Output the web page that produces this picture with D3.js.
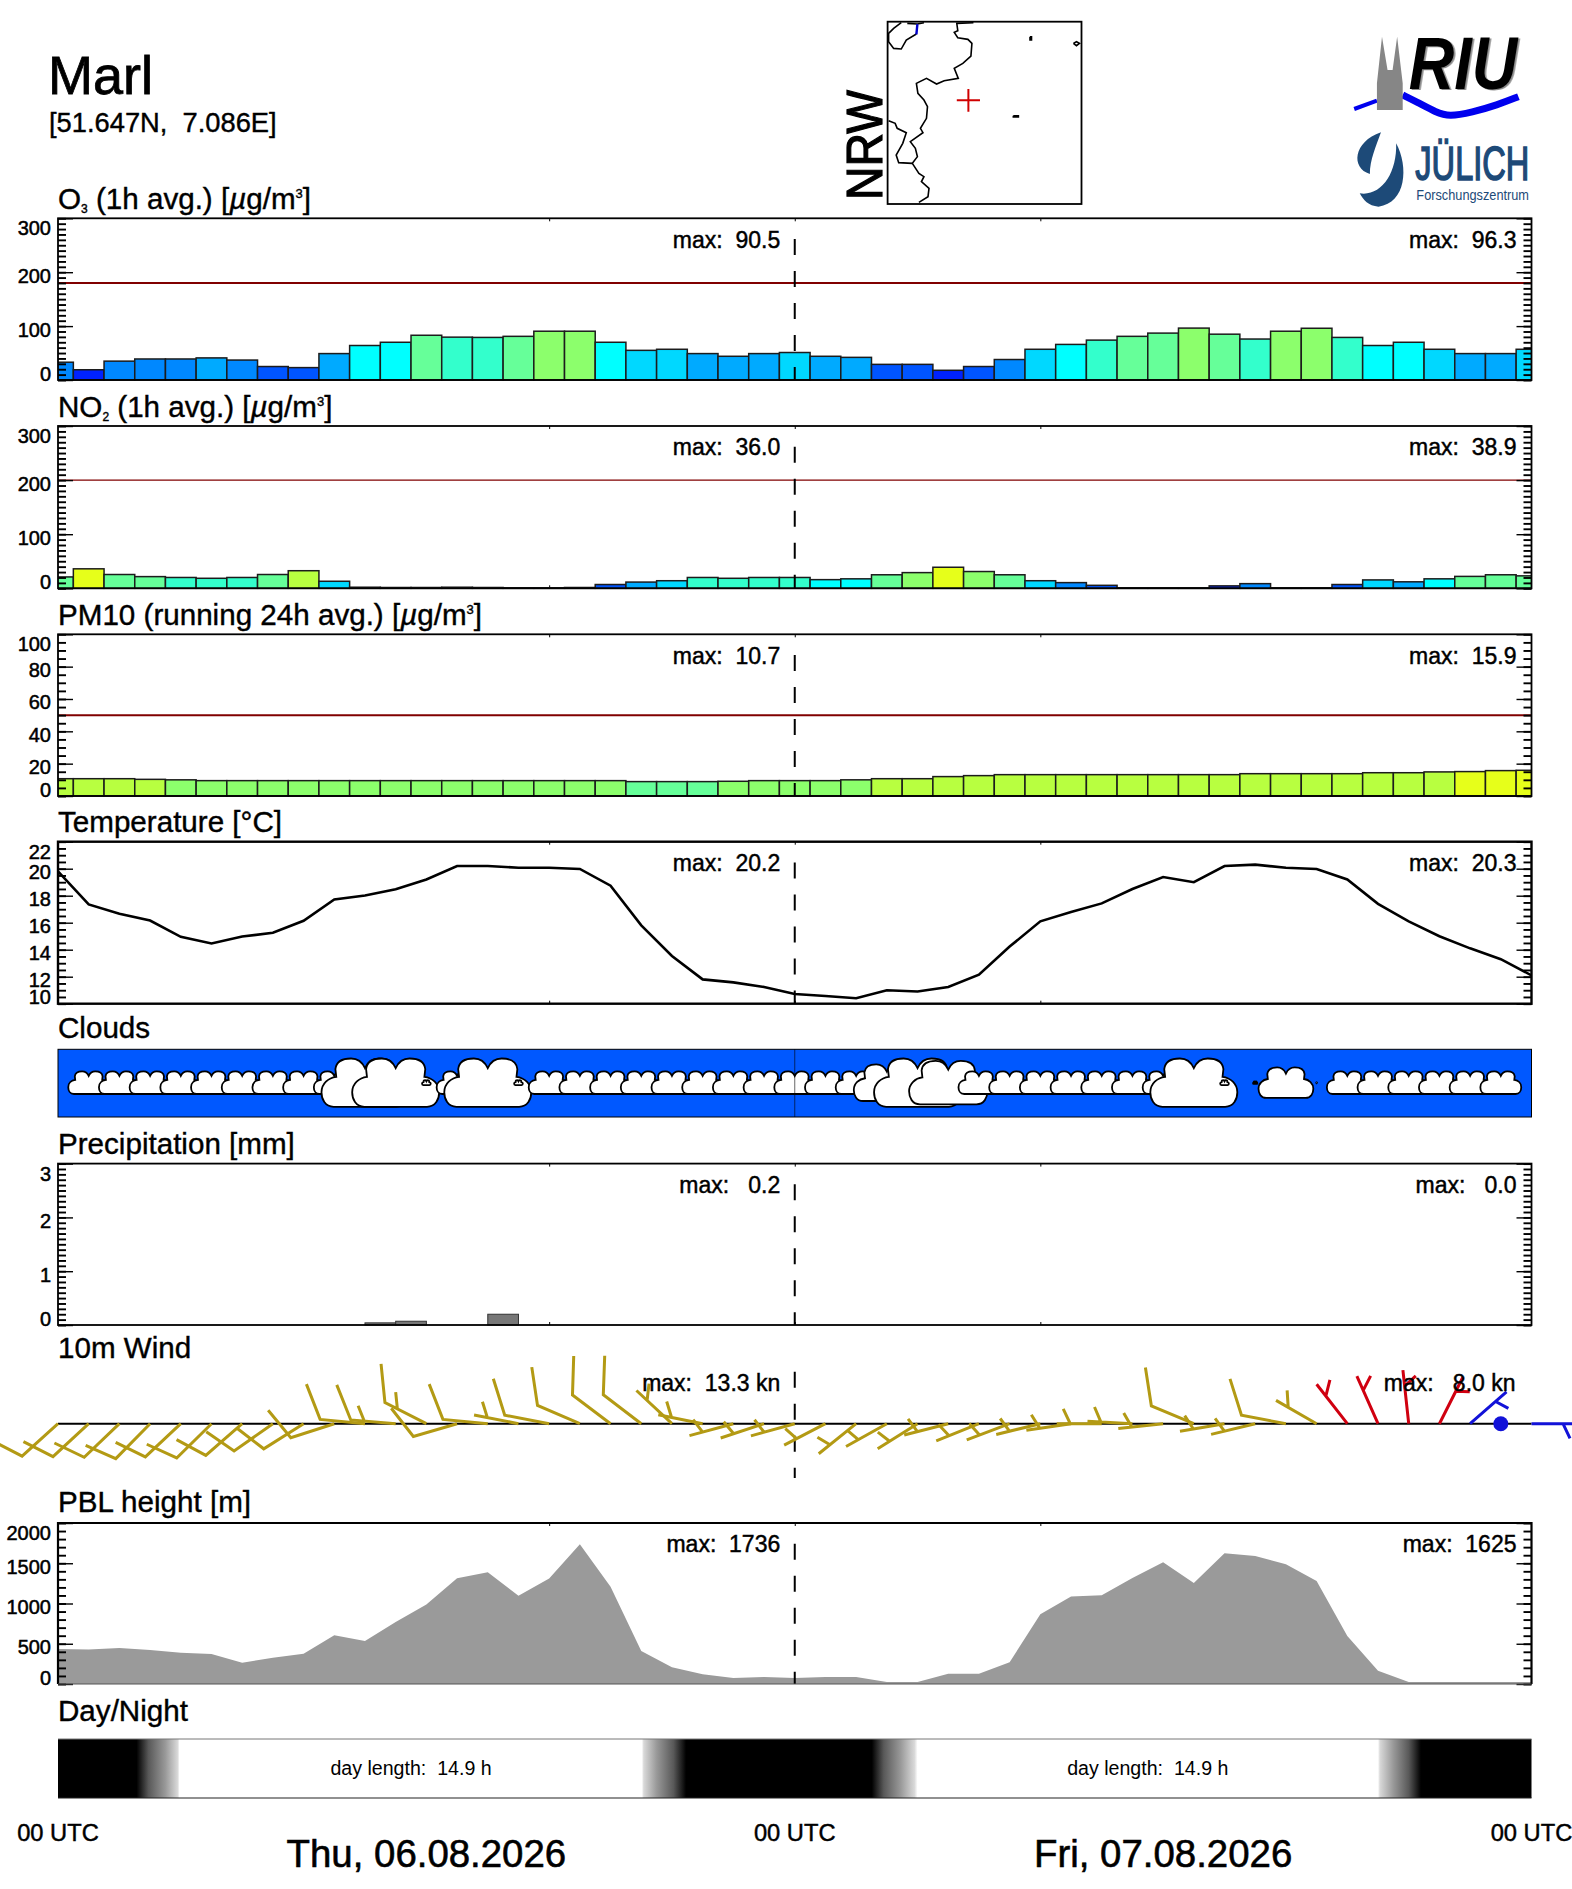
<!DOCTYPE html>
<html>
<head>
<meta charset="utf-8">
<title>Marl</title>
<script src="https://cdn.jsdelivr.net/npm/d3@7"></script>
<style>
  html, body { margin: 0; padding: 0; background: #fff; }
  svg { display: block; }
  text { font-family: "Liberation Sans", Arial, sans-serif; fill: #000; }
</style>
</head>
<body>
<div id="chart"></div>
<script>
// hourly values, 00 UTC Thu to 00 UTC Sat (49 hours)
const hours = d3.range(0, 49);

const o3 = [33, 19, 35, 39, 39, 41, 37, 25, 23, 49, 64, 70, 83, 79.5, 79, 81, 90.5, 90.5, 70, 55, 57, 49, 44, 49, 51,
            44, 42, 29, 29, 18, 25, 38, 57, 66, 74, 81, 87, 96.3, 85, 76, 90.5, 96, 79, 64, 70, 57, 49, 49, 57];
const no2 = [21, 36, 25.5, 21.6, 20, 18.5, 20, 25.5, 32.5, 13, 2, 1.5, 1.5, 2, 1.5, 1, 1, 1.5, 7, 11.5, 14, 20, 18.5, 20, 20,
             16, 17.5, 25, 29, 38.9, 31, 25, 14, 10.5, 5.5, 1, 1, 1, 4.5, 8.6, 1, 1, 7, 15.5, 12, 17.5, 22, 25, 23];
const pm10 = [10.7, 10.7, 10.7, 10.3, 10, 9.5, 9.5, 9.5, 9.5, 9.5, 9.5, 9.5, 9.5, 9.5, 9.5, 9.5, 9.5, 9.5, 9.5, 8.9, 8.9, 8.9, 9.1, 9.5, 9.5,
              9.5, 10, 10.7, 10.7, 12, 12.6, 13.2, 13.2, 13.2, 13.2, 13.2, 13.2, 13.2, 13.2, 13.8, 13.8, 13.8, 13.8, 14.4, 14.4, 14.9, 15.1, 15.7, 15.9];
const temperature = [19.8, 17.35, 16.66, 16.16, 14.95, 14.46, 14.98, 15.25, 16.14, 17.72, 18.02, 18.47, 19.2, 20.2, 20.2, 20.07, 20.07, 19.98, 18.74, 15.8, 13.54, 11.8, 11.58, 11.24, 10.72,
                     10.57, 10.4, 11.0, 10.9, 11.24, 12.15, 14.23, 16.1, 16.8, 17.43, 18.5, 19.38, 19.0, 20.2, 20.3, 20.07, 19.98, 19.2, 17.4, 16.1, 15.0, 14.1, 13.3, 12.1];
const pblHeight = [434, 430, 446, 422, 389, 372, 264, 326, 376, 607, 533, 769, 988, 1314, 1388, 1095, 1310, 1736, 1207, 409, 207, 120, 74, 87, 74,
                   87, 87, 25, 25, 128, 128, 269, 868, 1087, 1103, 1318, 1512, 1256, 1625, 1591, 1488, 1281, 595, 165, 25, 25, 25, 25, 25];
// precipitation falls in the hour that starts at precipHours
const precipHours = [10, 11, 14];
const precip = [0.04, 0.07, 0.2];
// cloud amount in percent, 0 = no symbol
const cloudAmount = [0, 47, 47, 47, 47, 47, 47, 47, 47, 47, 100, 100, 10, 47, 100, 10, 47, 47, 47, 47, 47, 47, 47, 47, 47,
                     47, 47, 76, 100, 90, 47, 47, 47, 47, 47, 47, 47, 100, 10, 5, 63, 1, 47, 47, 47, 47, 47, 47, 0];
// wind: direction it blows from in degrees, speed in knots, null = calm
const windDir = [233, 232.5, 231.5, 229.7, 232, 230.6, 234, 239.6, 242.3, 254.9, 274.6, 274, 293, 256.3, 274.6, 279.3, 279.1, 289.7, 302.2, 302.5, 307.9, 279.5, 257.2, 254.6, 257,
                 246.6, 236.2, 245.1, 242.4, 258, 251.5, 252.5, 258.5, 263, 270, 272.5, 265, 289.3, 262, 258.6, 279, 295.6, 317, 332, 352.6, 31.2, 54, null, 90];
const windSpeed = [9, 9, 9, 9, 9, 9, 9, 9, 9, 10, 11, 13, 13.3, 10, 10, 7, 9, 10, 11, 11, 7, 6, 6, 6, 6,
                   6, 6, 6, 6, 6, 6, 6, 7, 7, 7, 7, 7, 8.0, 7, 7, 8, 6, 5, 5, 5, 4, 4, 1, 4];

const maxLabels = {
    o3: ["90.5", "96.3"],
    no2: ["36.0", "38.9"],
    pm10: ["10.7", "15.9"],
    temperature: ["20.2", "20.3"],
    precip: [" 0.2", " 0.0"],
    wind: ["13.3 kn", " 8.0 kn"],
    pbl: ["1736", "1625"]
};

// sun: hour of the stop, brightness 0..1
const dayStops = [0, 2.56, 2.95, 3.5, 3.9, 3.96, 19.02, 19.08, 19.5, 20.05, 20.46, 26.51, 26.9, 27.45, 27.9, 28.0, 43.0, 43.06, 43.5, 44.0, 44.4, 48];
const dayLight = [0, 0, 0.35, 0.6, 0.85, 1, 1, 0.85, 0.6, 0.35, 0, 0, 0.35, 0.6, 0.85, 1, 1, 0.85, 0.6, 0.35, 0, 0];

const palette = ["#001a99", "#0022ff", "#0055ff", "#0088ff", "#00aaff", "#00d8ff", "#00ffff", "#33ffcc", "#66ff99", "#8cff6c", "#b8ff40", "#e6ff1a"];
const o3Steps = [10, 20, 30, 40, 50, 60, 72, 80, 90, 120, 150];
const no2Steps = [2.5, 5, 8, 11, 12.5, 16, 18, 21, 27, 32, 34];
const pm10Steps = [1, 2, 3, 4, 5, 6, 7, 8, 9, 10.2, 15];

// map outline, digitised in map units
const mapBorders = [
    [[383, 68], [350, 70], [352, 92], [345, 97], [352, 113], [372, 118], [380, 130], [378, 168], [362, 190], [345, 205], [353, 235], [325, 242], [310, 252], [290, 235], [270, 250], [273, 280], [285, 300], [292, 320], [290, 355], [278, 385], [283, 398], [258, 425], [268, 445], [272, 470], [262, 490], [275, 520], [285, 530], [280, 545], [295, 565], [293, 590], [275, 607]],
    [[215, 362], [228, 370], [232, 385], [250, 398], [243, 430], [230, 465], [235, 488], [262, 490]],
    [[240, 68], [225, 85], [215, 100], [215, 125], [225, 145], [240, 147], [250, 120], [270, 102]],
    [[252, 70], [272, 72], [285, 68]],
    [[495, 110], [498, 110], [498, 120], [495, 120], [495, 110]],
    [[581, 130], [587, 125], [593, 130], [587, 137], [581, 130]],
    [[462, 347], [472, 347], [472, 351], [462, 351], [462, 347]]
];
const mapLake = [[272, 72], [270, 103]];
const markerMap = [373, 301];

const width = 1572, height = 1889;
const left = 58, right = 1531.5;

const x = d3.scaleLinear().domain([0, 48]).range([left, right]);
const svg = d3.select("#chart").append("svg").attr("width", width).attr("height", height);
const defs = svg.append("defs");

defs.append("clipPath").attr("id", "plotClip").append("rect")
    .attr("x", left).attr("y", 0).attr("width", right - left).attr("height", height);

function addText(parent, px, py, size, str, anchor) {
    return parent.append("text").attr("x", px).attr("y", py)
        .attr("font-size", size).attr("text-anchor", anchor || "start")
        .style("white-space", "pre").text(str);
}

// title with sub/superscripts, parts = [[text, kind], ...]
function addTitle(baseline, parts) {
    let t = svg.append("text").attr("x", left).attr("y", baseline).attr("font-size", 29.6)
        .attr("stroke", "#000").attr("stroke-width", 0.4).style("white-space", "pre");
    parts.forEach(function (p, i) {
        let kind = p[1], prev = i > 0 ? parts[i - 1][1] : null;
        let span = t.append("tspan").text(p[0]);
        let dy = 0;
        if (prev === "sub") dy = -4;
        if (prev === "sup") dy = 11;
        if (kind === "sub") { dy += 4; span.attr("font-size", 12); }
        if (kind === "sup") { dy -= 11; span.attr("font-size", 13); }
        if (kind === "it") span.attr("font-style", "italic");
        if (dy !== 0) span.attr("dy", dy);
    });
}

function yAxes(g, y, majors, minorStep, fmtLabel) {
    let dom = y.domain();
    let minors = d3.range(dom[0], dom[1] + minorStep / 2, minorStep);

    [d3.axisLeft, d3.axisRight].forEach(function (axisFn, side) {
        let gx = side === 0 ? left : right;
        g.append("g").attr("transform", "translate(" + gx + ",0)")
            .call(axisFn(y).tickValues(minors).tickSize(-8).tickFormat(""))
            .call(s => s.select(".domain").remove())
            .selectAll("line").attr("stroke-width", 1.9);

        let majorAxis = g.append("g").attr("transform", "translate(" + gx + ",0)")
            .call(axisFn(y).tickValues(majors).tickSize(-15).tickPadding(side === 0 ? -8 : 0)
                .tickFormat(side === 0 ? fmtLabel : ""))
            .call(s => s.select(".domain").remove());
        majorAxis.selectAll("line").attr("stroke-width", 1.4);

        // labels sit under their tick, pulled inside at both ends of the panel
        majorAxis.selectAll("text")
            .attr("font-size", 20)
            .attr("font-family", '"Liberation Sans", Arial, sans-serif')
            .attr("stroke", "#000").attr("stroke-width", 0.5)
            .attr("fill", "#000")
            .attr("text-anchor", "end")
            .attr("x", -7)
            .attr("dy", d => d === dom[1] ? 16.6 : (d === dom[0] ? 0 : 10));
    });
}

function xTicks(g, top, bottom) {
    g.append("g").attr("transform", "translate(0," + top + ")")
        .call(d3.axisTop(x).tickValues([16, 24, 32]).tickSize(-3).tickFormat(""))
        .call(s => s.select(".domain").remove());
    g.append("g").attr("transform", "translate(0," + bottom + ")")
        .call(d3.axisBottom(x).tickValues([16, 24, 32]).tickSize(-3).tickFormat(""))
        .call(s => s.select(".domain").remove());
}

function midnightLine(g, top, bottom, color) {
    g.append("line").attr("x1", x(24)).attr("x2", x(24))
        .attr("y1", top + 20.7).attr("y2", bottom)
        .attr("stroke", color || "#000").attr("stroke-width", 2)
        .attr("stroke-dasharray", "16,16");
}

function maxText(g, top, labels) {
    addText(g, x(24) - 14.5, top + 29.4, 23, "max:  " + labels[0], "end").attr("stroke", "#000").attr("stroke-width", 0.45);
    addText(g, right - 15, top + 29.4, 23, "max:  " + labels[1], "end").attr("stroke", "#000").attr("stroke-width", 0.45);
}

function panelFrame(g, top, bottom, sw) {
    g.append("rect").attr("x", left).attr("y", top).attr("width", right - left).attr("height", bottom - top)
        .attr("fill", "none").attr("stroke", "#000").attr("stroke-width", sw || 1.8);
}

function barPanel(o) {
    let g = svg.append("g");
    let y = d3.scaleLinear().domain(o.domain).range([o.bottom, o.top]);
    let color = d3.scaleThreshold().domain(o.steps).range(palette);
    let bw = x(1) - x(0);

    xTicks(g, o.top, o.bottom);
    g.append("g").attr("clip-path", "url(#plotClip)").selectAll("rect")
        .data(o.values).join("rect")
        .attr("x", (d, i) => x(hours[i]) - bw / 2)
        .attr("width", bw)
        .attr("y", d => y(d))
        .attr("height", d => y(0) - y(d))
        .attr("fill", d => color(d))
        .attr("stroke", "#1c1c1c").attr("stroke-width", 1.5);

    g.append("line").attr("x1", left).attr("x2", right)
        .attr("y1", y(o.limit)).attr("y2", y(o.limit))
        .attr("stroke", "#800000").attr("stroke-width", o.limitWidth);
    midnightLine(g, o.top, o.bottom);
    yAxes(g, y, o.majors, o.minor, d3.format("d"));
    panelFrame(g, o.top, o.bottom);
    maxText(g, o.top, o.labels);
}

/* ---------- header ---------- */
addText(svg, 48, 94.3, 54, "Marl").attr("stroke", "#000").attr("stroke-width", 0.8);
addText(svg, 49, 131.7, 27.3, "[51.647N,  7.086E]").attr("stroke", "#000").attr("stroke-width", 0.4);

// map of NRW
const mapX = d3.scaleLinear().domain([213, 597]).range([887.6, 1081.5]);
const mapY = d3.scaleLinear().domain([65, 612]).range([21.7, 204]);
const mapLine = d3.line().x(d => mapX(d[0])).y(d => mapY(d[1]));
svg.append("text").attr("transform", "translate(882,200) rotate(-90)")
    .attr("font-size", 50).attr("stroke", "#000").attr("stroke-width", 1.2)
    .attr("textLength", 110).attr("lengthAdjust", "spacingAndGlyphs").text("NRW");
svg.append("rect").attr("x", mapX(213)).attr("y", mapY(65))
    .attr("width", mapX(597) - mapX(213)).attr("height", mapY(612) - mapY(65))
    .attr("fill", "#fff").attr("stroke", "#000").attr("stroke-width", 1.8);
svg.selectAll(".border").data(mapBorders).join("path").attr("class", "border")
    .attr("d", mapLine).attr("fill", "none").attr("stroke", "#000").attr("stroke-width", 1.6);
svg.append("path").attr("d", mapLine(mapLake)).attr("fill", "none").attr("stroke", "#0000cc").attr("stroke-width", 2.4);
svg.append("path")
    .attr("d", "M" + (mapX(markerMap[0]) - 11.6) + "," + mapY(markerMap[1]) + "h23.2M" + mapX(markerMap[0]) + "," + (mapY(markerMap[1]) - 11.3) + "v22.6")
    .attr("fill", "none").attr("stroke", "#d00000").attr("stroke-width", 2);

// logos, placed with the same zoom units as the map
const logoX = d3.scaleLinear().domain([1137, 1478]).range([1354.2, 1526.5]);
const logoY = d3.scaleLinear().domain([0, 300]).range([0, 100]);
const logoLine = d3.line().x(d => logoX(d[0])).y(d => logoY(d[1]));
const logoCurve = d3.line().x(d => logoX(d[0])).y(d => logoY(d[1])).curve(d3.curveBasis);
const wave = [[1233, 285], [1260, 305], [1300, 338], [1325, 350], [1370, 337], [1420, 315], [1462, 290]];
svg.append("path").attr("d", logoLine([[1137, 327], [1182, 302]])).attr("stroke", "#0000ee").attr("stroke-width", 4).attr("fill", "none");
svg.append("path").attr("d", logoCurve(wave)).attr("stroke", "#0000ee").attr("stroke-width", 7).attr("fill", "none");
svg.append("path").attr("d", logoLine([[1182, 330], [1182, 250], [1192, 110], [1203, 210], [1213, 210], [1222, 110], [1233, 250], [1233, 330]]) + "Z").attr("fill", "#868686");
svg.append("text").attr("transform", "translate(" + logoX(1245) + "," + logoY(268) + ") scale(0.85,1)")
    .attr("font-size", 74).attr("font-weight", "bold").attr("font-style", "italic")
    .style("fill", "#000").style("filter", "drop-shadow(2.5px 1.5px 0 #888)").text("RIU");
const julichBlue = "#1d4a78";
svg.append("path").attr("d", "M" + logoX(1190) + "," + logoY(397) + "C" + logoX(1135) + "," + logoY(425) + " " + logoX(1130) + "," + logoY(505) + " " + logoX(1168) + "," + logoY(522) + "C" + logoX(1168) + "," + logoY(480) + " " + logoX(1180) + "," + logoY(440) + " " + logoX(1190) + "," + logoY(397) + "Z").attr("fill", julichBlue);
svg.append("path").attr("d", "M" + logoX(1220) + "," + logoY(430) + "C" + logoX(1245) + "," + logoY(500) + " " + logoX(1240) + "," + logoY(610) + " " + logoX(1185) + "," + logoY(620) + "C" + logoX(1165) + "," + logoY(618) + " " + logoX(1155) + "," + logoY(600) + " " + logoX(1148) + "," + logoY(580) + "C" + logoX(1190) + "," + logoY(590) + " " + logoX(1222) + "," + logoY(520) + " " + logoX(1220) + "," + logoY(430) + "Z").attr("fill", julichBlue);
svg.append("text").attr("transform", "translate(" + logoX(1258) + "," + logoY(540) + ") scale(0.665,1)")
    .attr("font-size", 49).style("fill", julichBlue).attr("stroke", julichBlue).attr("stroke-width", 1.6).text("JÜLICH");
svg.append("text").attr("transform", "translate(" + logoX(1260) + "," + logoY(601) + ") scale(0.88,1)")
    .attr("font-size", 14.5).style("fill", julichBlue).text("Forschungszentrum");

/* ---------- O3, NO2, PM10 ---------- */
const gasUnit = [["["], ["µ", "it"], ["g/m"], ["3", "sup"], ["]"]];
addTitle(209, [["O"], ["3", "sub"], [" (1h avg.) "]].concat(gasUnit));
barPanel({ top: 218.3, bottom: 380, domain: [0, 300], values: o3, steps: o3Steps, limit: 180, limitWidth: 2,
    majors: [0, 100, 200, 300], minor: 10, labels: maxLabels.o3 });

addTitle(416.6, [["NO"], ["2", "sub"], [" (1h avg.) "]].concat(gasUnit));
barPanel({ top: 426, bottom: 588.3, domain: [0, 300], values: no2, steps: no2Steps, limit: 200, limitWidth: 1.2,
    majors: [0, 100, 200, 300], minor: 10, labels: maxLabels.no2 });

addTitle(624.9, [["PM10 (running 24h avg.) "]].concat(gasUnit));
barPanel({ top: 634.3, bottom: 796, domain: [0, 100], values: pm10, steps: pm10Steps, limit: 50, limitWidth: 2,
    majors: [0, 20, 40, 60, 80, 100], minor: 5, labels: maxLabels.pm10 });

/* ---------- temperature ---------- */
addTitle(832.3, [["Temperature [°C]"]]);
{
    let top = 841.7, bottom = 1003.7;
    let g = svg.append("g");
    let y = d3.scaleLinear().domain([10, 22]).range([bottom, top]);
    xTicks(g, top, bottom);
    midnightLine(g, top, bottom);
    g.append("path").attr("clip-path", "url(#plotClip)")
        .attr("d", d3.line().x((d, i) => x(hours[i])).y(d => y(d))(temperature))
        .attr("fill", "none").attr("stroke", "#000").attr("stroke-width", 2.6);
    yAxes(g, y, [10, 12, 14, 16, 18, 20, 22], 0.5, d3.format("d"));
    panelFrame(g, top, bottom, 2.4);
    maxText(g, top, maxLabels.temperature);
}

/* ---------- clouds ---------- */
addTitle(1037.5, [["Clouds"]]);
{
    let top = 1049.3, bottom = 1117;
    let g = svg.append("g");
    let w = d3.scaleLinear().domain([0, 100]).range([0, 87]);
    g.append("rect").attr("x", left).attr("y", top).attr("width", right - left).attr("height", bottom - top)
        .attr("fill", "#0058ff").attr("stroke", "#000").attr("stroke-width", 1);
    // symbol outline in a unit box, centred on 0,0
    let cloud = "M-0.36,0.5 C-0.46,0.5 -0.5,0.34 -0.5,0.2 C-0.5,0.02 -0.42,-0.1 -0.33,-0.12 L-0.34,-0.28 C-0.33,-0.44 -0.25,-0.5 -0.16,-0.5 C-0.08,-0.5 -0.03,-0.42 0,-0.3 C0.03,-0.42 0.08,-0.5 0.16,-0.5 C0.25,-0.5 0.33,-0.44 0.34,-0.28 L0.33,-0.12 C0.42,-0.1 0.5,0.02 0.5,0.2 C0.5,0.34 0.46,0.5 0.36,0.5 Z";
    g.selectAll("path").data(cloudAmount).join("path")
        .attr("d", cloud)
        .attr("vector-effect", "non-scaling-stroke")
        .attr("display", d => d > 0 ? null : "none")
        .attr("transform", (d, i) => "translate(" + x(hours[i]) + "," + ((top + bottom) / 2 - 0.5) + ") scale(" + w(d) + "," + (w(d) * 0.555) + ")")
        .attr("fill", "#fff").attr("stroke", "#000").attr("stroke-width", 1.8);
    g.append("line").attr("x1", x(24)).attr("x2", x(24)).attr("y1", top).attr("y2", bottom)
        .attr("stroke", "#000").attr("stroke-width", 0.6);
}

/* ---------- precipitation ---------- */
addTitle(1153.5, [["Precipitation [mm]"]]);
{
    let top = 1163.6, bottom = 1325;
    let g = svg.append("g");
    let y = d3.scaleLinear().domain([0, 3]).range([bottom, top]);
    xTicks(g, top, bottom);
    g.selectAll("rect").data(precip).join("rect")
        .attr("x", (d, i) => x(precipHours[i]))
        .attr("width", x(1) - x(0))
        .attr("y", d => y(d))
        .attr("height", d => y(0) - y(d))
        .attr("fill", "#777").attr("stroke", "#333").attr("stroke-width", 1);
    midnightLine(g, top, bottom);
    yAxes(g, y, [0, 1, 2, 3], 0.1, d3.format("d"));
    panelFrame(g, top, bottom);
    maxText(g, top, maxLabels.precip);
}

/* ---------- wind ---------- */
addTitle(1357.5, [["10m Wind"]]);
{
    let base = 1423.7;
    let g = svg.append("g");
    let sectorColor = d3.scaleThreshold().domain([45, 135, 310]).range(["#d00010", "#1212d8", "#b39a14", "#d00010"]);
    let staffX = 45, staffY = 54, featherX = 32, featherY = 39, halfX = 14, halfY = 17;
    let rad = a => a * Math.PI / 180;

    midnightLine(g, 1351, 1478);
    g.append("line").attr("x1", left).attr("x2", right).attr("y1", base).attr("y2", base)
        .attr("stroke", "#000").attr("stroke-width", 2);

    windDir.forEach(function (dir, i) {
        let x0 = x(hours[i]);
        if (dir === null) {
            g.append("circle").attr("cx", x0).attr("cy", base).attr("r", 7.5).attr("fill", "#1212d8");
            return;
        }
        let a = rad(dir), b = rad(dir + 60);
        let tipX = x0 + staffX * Math.sin(a), tipY = base - staffY * Math.cos(a);
        let setX = x0 + 0.7 * staffX * Math.sin(a), setY = base - 0.7 * staffY * Math.cos(a);
        let speed = Math.round(windSpeed[i] / 5) * 5;
        let d = "M" + x0 + "," + base + "L" + tipX + "," + tipY;
        if (speed >= 10) {
            d += "L" + (tipX + featherX * Math.sin(b)) + "," + (tipY - featherY * Math.cos(b));
        }
        if (speed % 10 === 5) {
            d += "M" + setX + "," + setY + "L" + (setX + halfX * Math.sin(b)) + "," + (setY - halfY * Math.cos(b));
        }
        g.append("path").attr("d", d).attr("fill", "none")
            .attr("stroke", sectorColor(dir)).attr("stroke-width", 3);
    });
    addText(g, x(24) - 14.5, 1390.7, 23, "max:  " + maxLabels.wind[0], "end").attr("stroke", "#000").attr("stroke-width", 0.45);
    addText(g, right - 16, 1390.7, 23, "max:  " + maxLabels.wind[1], "end").attr("stroke", "#000").attr("stroke-width", 0.45);
}

/* ---------- PBL ---------- */
addTitle(1511.5, [["PBL height [m]"]]);
{
    let top = 1523, bottom = 1684;
    let g = svg.append("g");
    let y = d3.scaleLinear().domain([0, 2000]).range([bottom, top]);
    xTicks(g, top, bottom);
    g.append("path").attr("clip-path", "url(#plotClip)")
        .attr("d", d3.area().x((d, i) => x(hours[i])).y0(y(0)).y1(d => y(d))(pblHeight))
        .attr("fill", "#9a9a9a");
    midnightLine(g, top, bottom);
    yAxes(g, y, [0, 500, 1000, 1500, 2000], 100, d3.format("d"));
    g.append("path").attr("d", "M" + left + "," + bottom + "V" + top + "H" + right + "V" + bottom)
        .attr("fill", "none").attr("stroke", "#000").attr("stroke-width", 2.2);
    g.append("line").attr("x1", left).attr("x2", right).attr("y1", bottom).attr("y2", bottom)
        .attr("stroke", "#555").attr("stroke-width", 1.2);
    maxText(g, top, maxLabels.pbl);
}

/* ---------- day / night ---------- */
addTitle(1720.5, [["Day/Night"]]);
{
    let top = 1739, bottom = 1798;
    let grey = d3.scaleLinear().domain([0, 1]).range(["#000", "#fff"]);
    let grad = defs.append("linearGradient").attr("id", "dayGrad");
    dayStops.forEach(function (h, i) {
        grad.append("stop").attr("offset", h / 48).attr("stop-color", grey(dayLight[i]));
    });
    svg.append("rect").attr("x", left).attr("y", top).attr("width", right - left).attr("height", bottom - top)
        .attr("fill", "url(#dayGrad)");
    svg.append("line").attr("x1", left).attr("x2", right).attr("y1", top).attr("y2", top).attr("stroke", "#777").attr("stroke-width", 1);
    svg.append("line").attr("x1", left).attr("x2", right).attr("y1", bottom).attr("y2", bottom).attr("stroke", "#222").attr("stroke-width", 1.2);
    addText(svg, x(11.5), 1775, 19.6, "day length:  14.9 h", "middle");
    addText(svg, x(35.5), 1775, 19.6, "day length:  14.9 h", "middle");
}

/* ---------- time labels ---------- */
[0, 24, 48].forEach(function (h) {
    addText(svg, x(h), 1840.7, 23.7, "00 UTC", "middle").attr("stroke", "#000").attr("stroke-width", 0.45);
});
addText(svg, x(12), 1867.3, 38.4, "Thu, 06.08.2026", "middle").attr("stroke", "#000").attr("stroke-width", 0.6);
addText(svg, x(36), 1867.3, 38.4, "Fri, 07.08.2026", "middle").attr("stroke", "#000").attr("stroke-width", 0.6);
</script>
</body>
</html>
